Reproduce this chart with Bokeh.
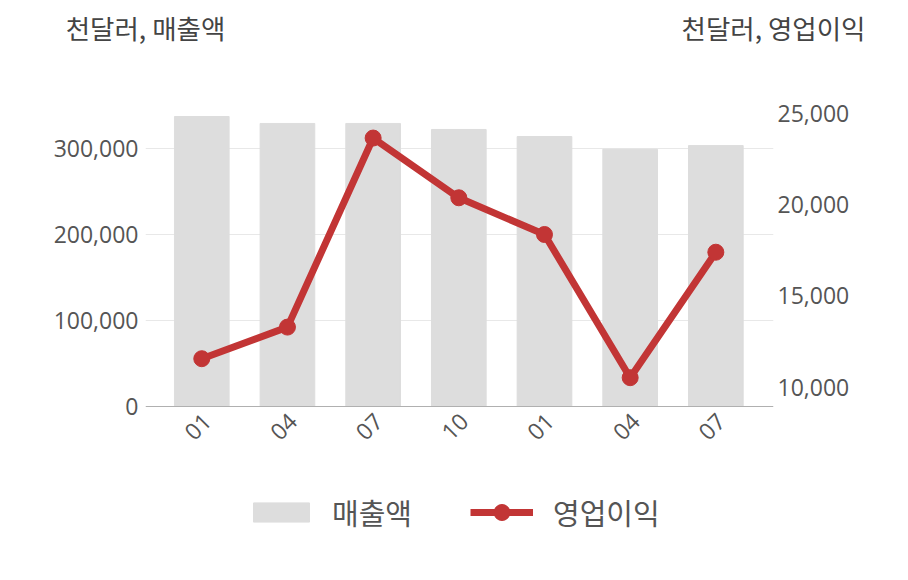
import math
from bokeh.plotting import figure
from bokeh.models import (Range1d, LinearAxis, FixedTicker, NumeralTickFormatter,
                          Legend, LegendItem, Span)
from bokeh.core.properties import value
from bokeh.embed import file_html
from bokeh.resources import INLINE

# ---- data ----
periods = ["01", "04", "07", "10", "01", "04", "07"]
sales = [337600, 329500, 329500, 322500, 314300, 299500, 303800]          # 매출액 (천달러)
op_income = [11560, 13290, 23640, 20370, 18360, 10520, 17390]            # 영업이익 (천달러)
left_ticks = [0, 100000, 200000, 300000]
right_ticks = [10000, 15000, 20000, 25000]
left_title = "천달러, 매출액"
right_title = "천달러, 영업이익"
bar_name = "매출액"
line_name = "영업이익"

# ---- style / layout ----
BAR_COLOR = "#dddddd"
LINE_COLOR = "#c23535"
TEXT_COLOR = "#555555"
TITLE_COLOR = "#444444"
NUM_FONT = "Open Sans"
KR_FONT = "Noto Sans CJK KR"
W, H = 900, 576
FRAME_LEFT, FRAME_RIGHT, FRAME_TOP, FRAME_BOTTOM = 145, 773, 100, H
BASE_PX = 406                      # pixel row of the value axis baseline
LEFT_PX_PER_UNIT = 85.9 / 100000   # left scale
RIGHT_PX_PER_UNIT = 91.33 / 5000   # right scale
RIGHT_REF_VAL, RIGHT_REF_PX = 10000, 386.7
X_START, X_END = -0.657, 6.673

left_range = Range1d(-(FRAME_BOTTOM - BASE_PX) / LEFT_PX_PER_UNIT,
                     (BASE_PX - FRAME_TOP) / LEFT_PX_PER_UNIT)
right_range = Range1d(RIGHT_REF_VAL - (FRAME_BOTTOM - RIGHT_REF_PX) / RIGHT_PX_PER_UNIT,
                      RIGHT_REF_VAL + (RIGHT_REF_PX - FRAME_TOP) / RIGHT_PX_PER_UNIT)

idx = list(range(len(periods)))

p = figure(width=W, height=H, output_backend="svg", toolbar_location=None,
           x_axis_type=None,
           x_range=Range1d(X_START, X_END), y_range=left_range,
           min_border_left=FRAME_LEFT, min_border_right=W - FRAME_RIGHT,
           min_border_top=FRAME_TOP, min_border_bottom=H - FRAME_BOTTOM,
           outline_line_color=None)
p.extra_y_ranges = {"right": right_range}


def style_axis(ax, standoff, font, size, color):
    ax.axis_line_color = None
    ax.major_tick_line_color = None
    ax.minor_tick_line_color = None
    ax.major_tick_out = 0
    ax.major_tick_in = 0
    ax.minor_tick_out = 0
    ax.major_label_standoff = standoff
    ax.major_label_text_font = font
    ax.major_label_text_font_size = size
    ax.major_label_text_color = color


# left axis
la = p.yaxis[0]
la.ticker = FixedTicker(ticks=left_ticks)
la.formatter = NumeralTickFormatter(format="0,0")
style_axis(la, 7, NUM_FONT, "23px", TEXT_COLOR)
p.ygrid.ticker = FixedTicker(ticks=left_ticks[1:])
p.ygrid.grid_line_color = "#e8e8e8"

# right axis
ra = LinearAxis(y_range_name="right", ticker=FixedTicker(ticks=right_ticks),
                formatter=NumeralTickFormatter(format="0,0"))
style_axis(ra, 4, NUM_FONT, "23px", TEXT_COLOR)
p.add_layout(ra, "right")

# top "axis" carrying the two unit titles
ta = LinearAxis(ticker=FixedTicker(ticks=[X_START, X_END]),
                major_label_overrides={X_START: left_title, X_END: right_title})
style_axis(ta, 54, KR_FONT, "26.5px", TITLE_COLOR)
p.add_layout(ta, "above")

# baseline (category axis line)
p.add_layout(Span(location=0, dimension="width", line_color="#b0b0b0", line_width=1))

bars = p.vbar(x=idx, top=sales, width=0.638, color=BAR_COLOR)
ln = p.line(x=idx, y=op_income, y_range_name="right", line_width=7, color=LINE_COLOR)
pts = p.scatter(x=idx, y=op_income, y_range_name="right", size=16, color=LINE_COLOR)

# category labels, rotated
p.text(x=idx, y=0, text=periods, angle=math.pi / 4, text_align="center",
       text_baseline="middle", x_offset=-4, y_offset=20, text_font=value(NUM_FONT),
       text_font_size="23px", text_color=TEXT_COLOR)

common = dict(orientation="horizontal", padding=0, margin=0, border_line_color=None,
              background_fill_alpha=0, label_text_font=KR_FONT,
              label_text_font_size="29px", label_text_color=TEXT_COLOR)
leg1 = Legend(items=[LegendItem(label=bar_name, renderers=[bars])],
              location=(101, 43), glyph_width=70, glyph_height=24, label_standoff=16,
              **common)
leg2 = Legend(items=[LegendItem(label=line_name, renderers=[ln, pts])],
              location=(325, 43), glyph_width=63, glyph_height=40, label_standoff=20,
              **common)
p.add_layout(leg1, "center")
p.add_layout(leg2, "center")

open("out.html", "w").write(file_html(p, INLINE))
